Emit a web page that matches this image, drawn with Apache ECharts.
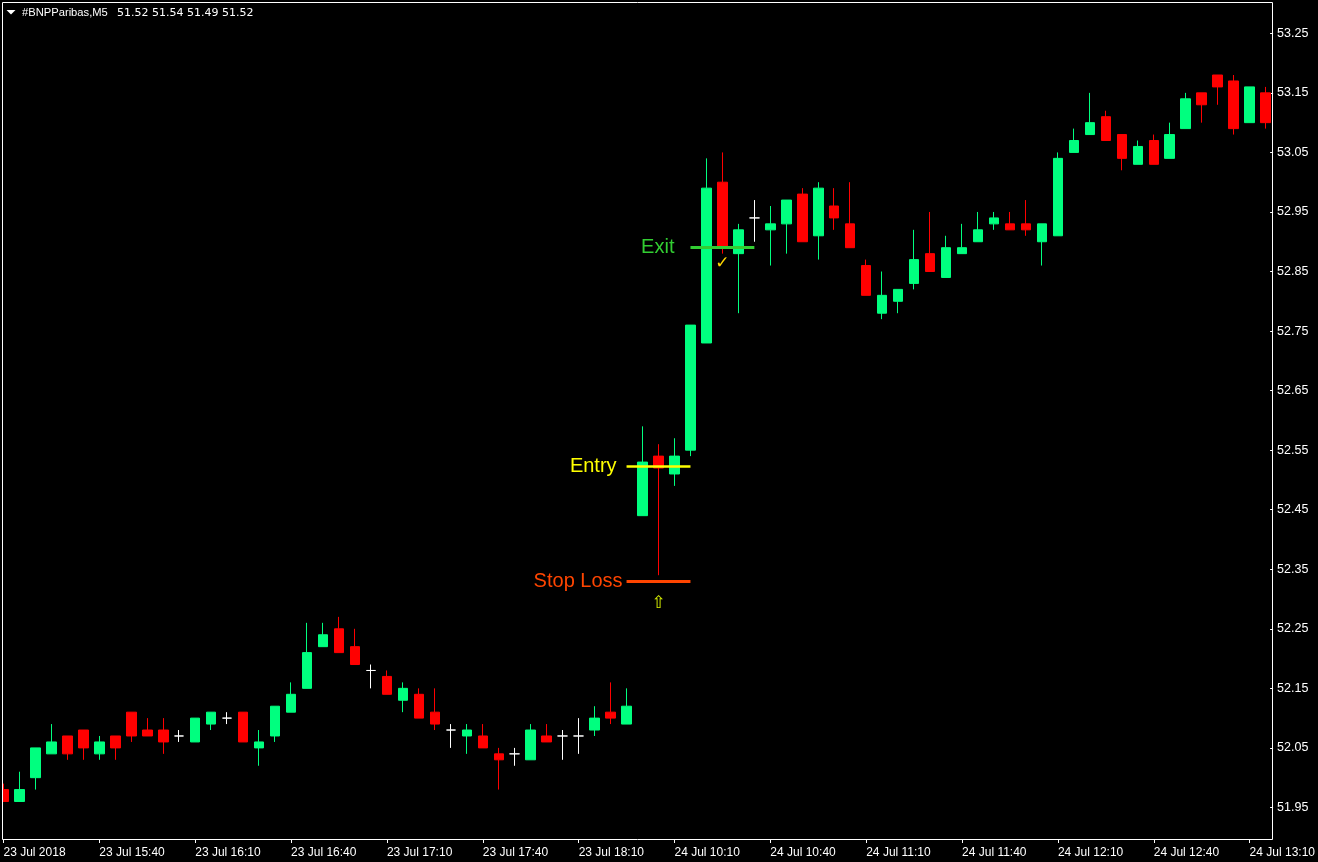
<!DOCTYPE html>
<html><head><meta charset="utf-8">
<script src="https://cdn.jsdelivr.net/npm/echarts@6/dist/echarts.min.js"></script>
<style>html,body{margin:0;padding:0;background:#000;}#chart{width:1318px;height:862px;}</style>
</head><body><div id="chart"></div>
<script>
const categories = [
 '23 Jul 15:10','23 Jul 15:15','23 Jul 15:20','23 Jul 15:25','23 Jul 15:30','23 Jul 15:35',
 '23 Jul 15:40','23 Jul 15:45','23 Jul 15:50','23 Jul 15:55','23 Jul 16:00','23 Jul 16:05',
 '23 Jul 16:10','23 Jul 16:15','23 Jul 16:20','23 Jul 16:25','23 Jul 16:30','23 Jul 16:35',
 '23 Jul 16:40','23 Jul 16:45','23 Jul 16:50','23 Jul 16:55','23 Jul 17:00','23 Jul 17:05',
 '23 Jul 17:10','23 Jul 17:15','23 Jul 17:20','23 Jul 17:25','23 Jul 17:30','23 Jul 17:35',
 '23 Jul 17:40','23 Jul 17:45','23 Jul 17:50','23 Jul 17:55','23 Jul 18:00','23 Jul 18:05',
 '23 Jul 18:10','23 Jul 18:15','23 Jul 18:20','23 Jul 18:25','24 Jul 10:00','24 Jul 10:05',
 '24 Jul 10:10','24 Jul 10:15','24 Jul 10:20','24 Jul 10:25','24 Jul 10:30','24 Jul 10:35',
 '24 Jul 10:40','24 Jul 10:45','24 Jul 10:50','24 Jul 10:55','24 Jul 11:00','24 Jul 11:05',
 '24 Jul 11:10','24 Jul 11:15','24 Jul 11:20','24 Jul 11:25','24 Jul 11:30','24 Jul 11:35',
 '24 Jul 11:40','24 Jul 11:45','24 Jul 11:50','24 Jul 11:55','24 Jul 12:00','24 Jul 12:05',
 '24 Jul 12:10','24 Jul 12:15','24 Jul 12:20','24 Jul 12:25','24 Jul 12:30','24 Jul 12:35',
 '24 Jul 12:40','24 Jul 12:45','24 Jul 12:50','24 Jul 12:55','24 Jul 13:00','24 Jul 13:05',
 '24 Jul 13:10','24 Jul 13:15'
];
const opens = [
 51.98,51.96,52.00,52.04,52.07,52.08,52.04,52.07,52.11,52.08,
 52.08,52.07,52.06,52.09,52.10,52.11,52.05,52.07,52.11,52.15,
 52.22,52.25,52.22,52.18,52.17,52.13,52.14,52.11,52.08,52.07,
 52.07,52.04,52.04,52.03,52.07,52.07,52.07,52.08,52.11,52.09,
 52.44,52.54,52.51,52.55,52.73,53.00,52.88,52.94,52.92,52.93,
 52.98,52.91,52.96,52.93,52.86,52.78,52.80,52.83,52.88,52.84,
 52.88,52.90,52.93,52.93,52.93,52.90,52.91,53.05,53.08,53.11,
 53.08,53.03,53.07,53.04,53.09,53.15,53.18,53.17,53.10,53.15
];
const closes = [
 51.96,51.98,52.05,52.06,52.04,52.05,52.06,52.05,52.07,52.07,
 52.06,52.07,52.10,52.11,52.10,52.06,52.06,52.12,52.14,52.21,
 52.24,52.21,52.19,52.18,52.14,52.15,52.10,52.09,52.08,52.08,
 52.05,52.03,52.04,52.08,52.06,52.07,52.07,52.10,52.10,52.12,
 52.53,52.52,52.54,52.76,52.99,52.89,52.92,52.94,52.93,52.97,
 52.90,52.99,52.94,52.89,52.81,52.81,52.82,52.87,52.85,52.89,
 52.89,52.92,52.94,52.92,52.92,52.93,53.04,53.07,53.10,53.07,
 53.04,53.06,53.03,53.08,53.14,53.13,53.16,53.09,53.16,53.10
];
const lows = [
 51.96,51.96,51.98,52.04,52.03,52.03,52.03,52.03,52.06,52.07,
 52.04,52.06,52.06,52.08,52.09,52.06,52.02,52.06,52.11,52.15,
 52.22,52.21,52.19,52.15,52.14,52.11,52.10,52.08,52.05,52.04,
 52.05,51.98,52.02,52.03,52.06,52.03,52.04,52.07,52.09,52.09,
 52.44,52.34,52.49,52.54,52.73,52.88,52.78,52.90,52.86,52.88,
 52.90,52.87,52.92,52.89,52.81,52.77,52.78,52.82,52.85,52.84,
 52.88,52.90,52.92,52.92,52.91,52.86,52.91,53.05,53.08,53.07,
 53.02,53.03,53.03,53.04,53.09,53.10,53.13,53.08,53.10,53.09
];
const highs = [
 51.99,52.01,52.05,52.09,52.07,52.08,52.07,52.07,52.11,52.10,
 52.10,52.08,52.10,52.11,52.11,52.11,52.08,52.12,52.16,52.26,
 52.26,52.27,52.25,52.19,52.18,52.16,52.15,52.15,52.09,52.09,
 52.09,52.05,52.05,52.09,52.09,52.08,52.10,52.12,52.16,52.15,
 52.59,52.56,52.57,52.76,53.04,53.05,52.93,52.97,52.96,52.97,
 52.99,53.00,52.99,53.00,52.87,52.85,52.82,52.92,52.95,52.91,
 52.93,52.95,52.95,52.95,52.97,52.93,53.05,53.09,53.15,53.12,
 53.08,53.07,53.08,53.10,53.15,53.15,53.18,53.18,53.16,53.16
];
const xTickLabels = ['23 Jul 2018','23 Jul 15:40','23 Jul 16:10','23 Jul 16:40','23 Jul 17:10',
 '23 Jul 17:40','23 Jul 18:10','24 Jul 10:10','24 Jul 10:40','24 Jul 11:10','24 Jul 11:40',
 '24 Jul 12:10','24 Jul 12:40','24 Jul 13:10'];
const yTickValues = [51.95,52.05,52.15,52.25,52.35,52.45,52.55,52.65,52.75,52.85,52.95,53.05,53.15,53.25];
const headerName = '#BNPParibas,M5';
const headerPrices = '51.52 51.54 51.49 51.52';
// trade levels: [label, price, fromIndex, toIndex]
const entryLevel = ['Entry', 52.523, 39, 43];
const stopLevel = ['Stop Loss', 52.33, 39, 43];
const exitLevel = ['Exit', 52.89, 43, 47];
const arrowMark = [41, 52.292];
const checkMark = [45, 52.864];

const candleData = opens.map((o, i) => [o, closes[i], lows[i], highs[i]]);
const LAB = 'Liberation Sans, Arial, sans-serif';

function levelLine(lv, color, width, dist) {
  return [
    { coord: [lv[2], lv[1]], lineStyle: { color: color, width: width, type: 'solid' },
      label: { show: true, position: 'start', formatter: lv[0], color: color, fontSize: 20,
               fontFamily: LAB, distance: dist } },
    { coord: [lv[3], lv[1]] }
  ];
}

const chart = echarts.init(document.getElementById('chart'), null, { renderer: 'canvas' });
chart.setOption({
  backgroundColor: '#000000',
  animation: false,
  grid: { left: 3.5, right: 50.5, top: 2, bottom: 23, show: false },
  xAxis: {
    type: 'category', data: categories, boundaryGap: false,
    axisLine: { show: false },
    axisTick: { show: true, interval: 5, length: 4, lineStyle: { color: '#ffffff', width: 1 } },
    axisLabel: { interval: 5, formatter: (v, i) => xTickLabels[Math.round(i / 6)], align: 'left',
                 color: '#ffffff', fontSize: 12, fontFamily: LAB, margin: 8 },
    splitLine: { show: false }
  },
  yAxis: {
    type: 'value', position: 'right', min: 51.897, max: 53.3026, offset: 4.5, scale: true,
    splitLine: { show: false },
    axisLine: { show: false },
    axisTick: { show: true, customValues: yTickValues, length: 3, lineStyle: { color: '#ffffff' } },
    axisLabel: { customValues: yTickValues, formatter: v => Number(v).toFixed(2), color: '#ffffff',
                 fontSize: 12.5, fontFamily: LAB, margin: 7 }
  },
  series: [{
    type: 'candlestick',
    data: candleData,
    barWidth: 10,
    clip: false,
    itemStyle: {
      color: '#00ff7f', color0: '#ff0000',
      borderColor: '#00ff7f', borderColor0: '#ff0000', borderColorDoji: '#ffffff',
      borderWidth: 1
    },
    markLine: {
      silent: true, symbol: ['none', 'none'], animation: false,
      data: [
        levelLine(entryLevel, '#ffff00', 2.5, 10),
        levelLine(stopLevel, '#ff4500', 3, 4),
        levelLine(exitLevel, '#32cd32', 3, 16)
      ]
    },
    markPoint: {
      silent: true, animation: false,
      symbol: 'circle', symbolSize: 0,
      data: [
        { coord: arrowMark, label: { show: true, position: 'inside', formatter: '\u21e7', color: '#d8f000',
            fontSize: 17, fontFamily: 'DejaVu Sans' } },
        { coord: checkMark, label: { show: true, position: 'inside', formatter: '\u2713', color: '#ffd700',
            fontSize: 17, fontFamily: 'DejaVu Sans', fontWeight: 'bold' } }
      ]
    }
  }],
  graphic: [
    { type: 'rect', silent: true, z: 10, shape: { x: 2.5, y: 2.5, width: 1270, height: 837 },
      style: { fill: null, stroke: '#ffffff', lineWidth: 1 } },
    { type: 'rect', silent: true, z: 9, shape: { x: 0, y: 0, width: 2, height: 862 },
      style: { fill: '#000000' } },
    { type: 'polygon', silent: true, shape: { points: [[6.5, 10], [15.5, 10], [11, 14.5]] },
      style: { fill: '#ffffff' } },
    { type: 'text', silent: true, x: 22, y: 12.7,
      style: { text: headerName, fill: '#ffffff', font: '11.2px Liberation Sans', textVerticalAlign: 'middle' } },
    { type: 'text', silent: true, x: 117, y: 12.7,
      style: { text: headerPrices, fill: '#ffffff', font: '11px DejaVu Sans', textVerticalAlign: 'middle' } }
  ]
});
</script></body></html>
